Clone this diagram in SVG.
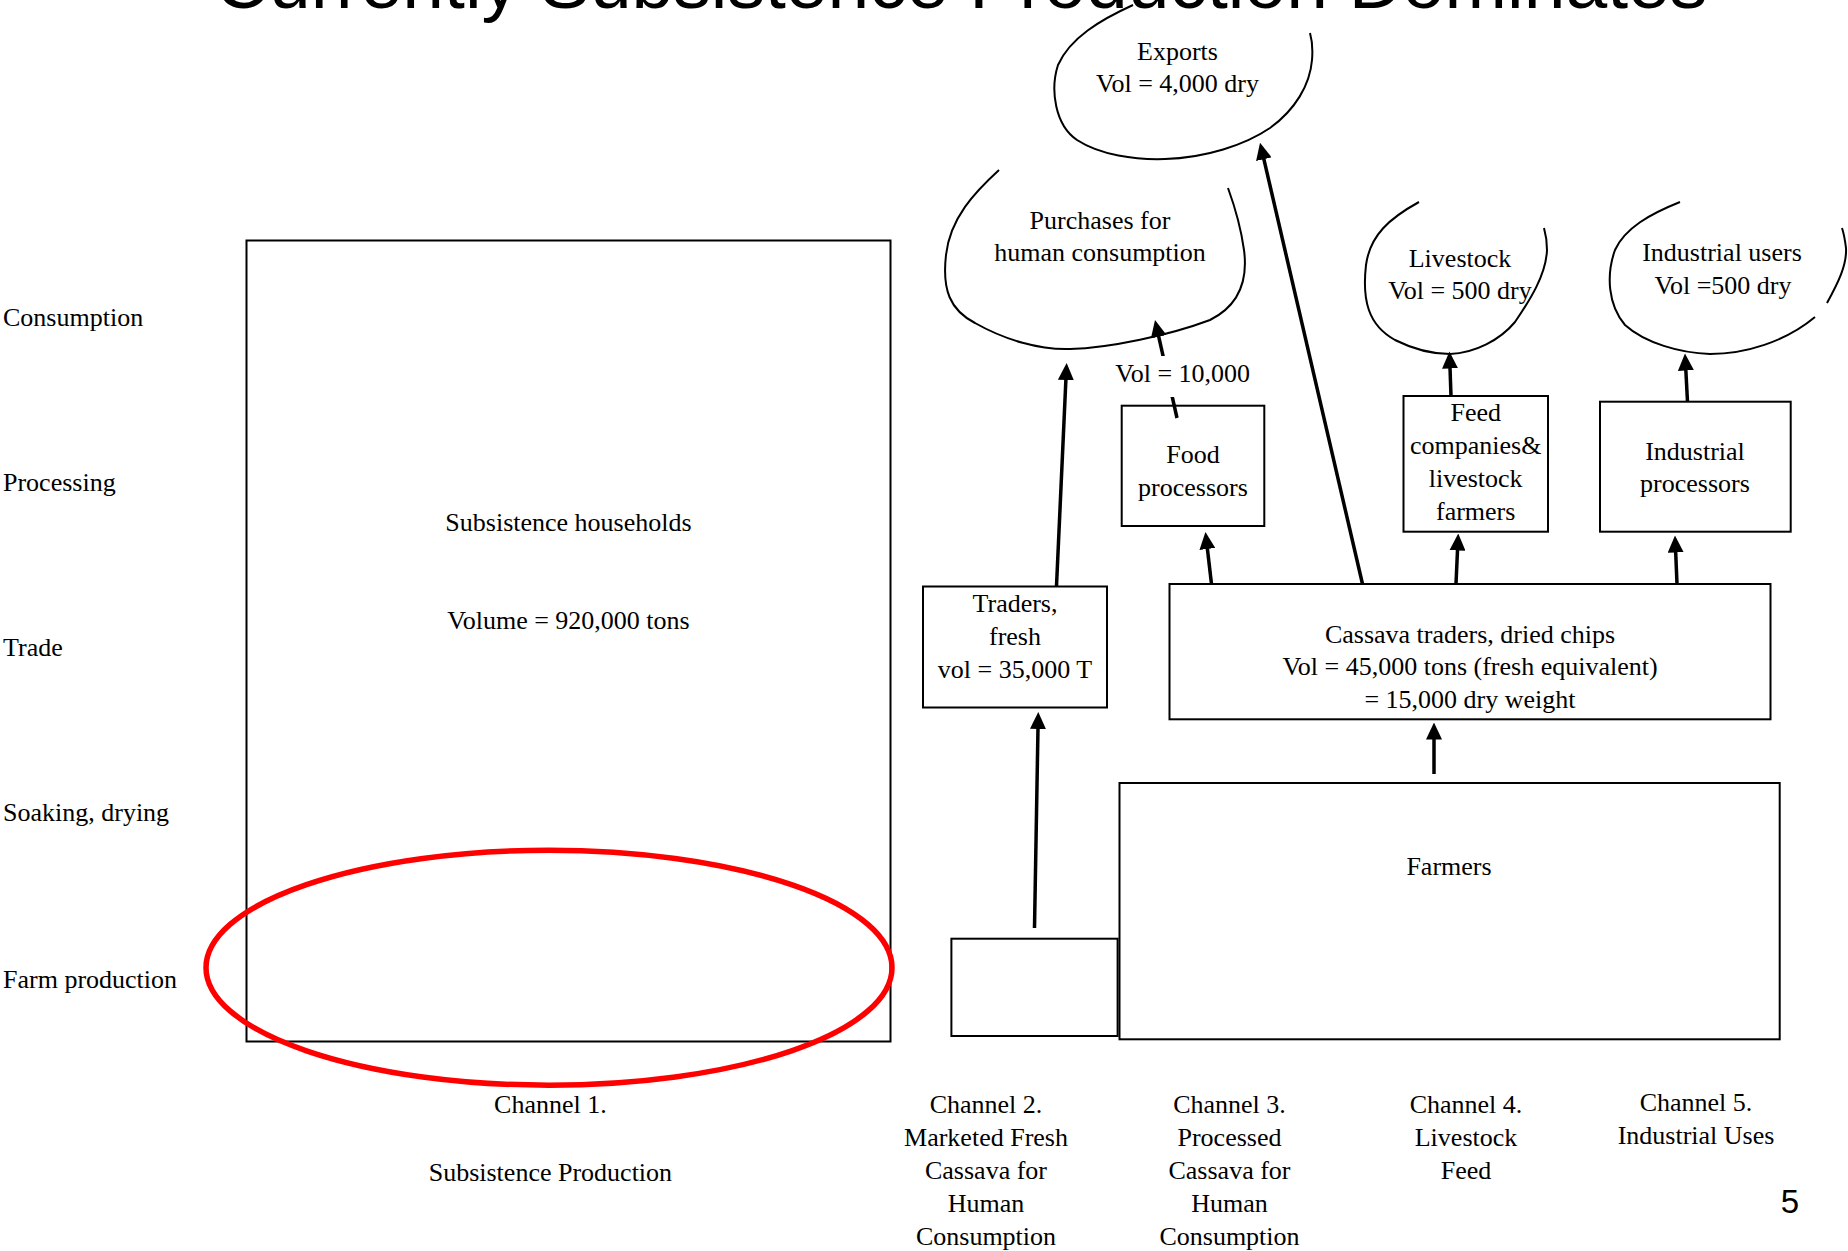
<svg xmlns="http://www.w3.org/2000/svg" width="1848" height="1251" viewBox="0 0 1848 1251">
<defs>
<style>
.t{font-family:"Liberation Serif","Times New Roman",serif;font-size:26px;fill:#000}
.c{text-anchor:middle}
.box{fill:none;stroke:#000;stroke-width:2}
.cloud{fill:none;stroke:#000;stroke-width:2}
.arr{fill:none;stroke:#000;stroke-width:3.5;marker-end:url(#ah)}
</style>
<marker id="ah" markerUnits="userSpaceOnUse" markerWidth="17" markerHeight="16" viewBox="0 0 17 16" refX="7" refY="8" orient="auto">
<path d="M0,0 L17,8 L0,16 z" fill="#000"/>
</marker>
</defs>
<rect width="1848" height="1251" fill="#fff"/>

<text x="961" y="8" text-anchor="middle" font-family="'Liberation Sans',Arial,sans-serif" font-size="75" fill="#000">Currently Subsistence Production Dominates</text>

<g id="stage-labels" class="t">
<text x="3" y="326">Consumption</text>
<text x="3" y="491">Processing</text>
<text x="3" y="656">Trade</text>
<text x="3" y="821">Soaking, drying</text>
<text x="3" y="988">Farm production</text>
</g>

<g id="subsistence">
<rect class="box" x="246.5" y="240.5" width="644" height="801"/>
<text class="t c" x="568.5" y="531">Subsistence households</text>
<text class="t c" x="568.5" y="629">Volume = 920,000 tons</text>
</g>

<g id="highlight">
<ellipse cx="549" cy="967.7" rx="343" ry="117.5" fill="none" stroke="#ff0000" stroke-width="5.5"/>
</g>

<g id="exports">
<path class="cloud" d="M1133,5 C1100,20 1070,38 1058,65 C1050,90 1055,125 1077,140 C1100,155 1135,160 1165,159 C1205,158 1245,145 1270,128 C1295,110 1310,85 1312,60 C1313,48 1312,40 1310,33"/>
<text class="t c" x="1177.5" y="60">Exports</text>
<text class="t c" x="1177.5" y="92">Vol = 4,000 dry</text>
</g>

<g id="purchases">
<path class="cloud" d="M999,170 C975,192 950,218 946,255 C942,290 950,310 975,323 C1005,340 1040,350 1070,349 C1110,348 1170,335 1210,320 C1240,305 1248,280 1244,250 C1241,228 1236,210 1228,188"/>
<text class="t c" x="1100" y="229">Purchases for</text>
<text class="t c" x="1100" y="261">human consumption</text>
</g>

<g id="livestock">
<path class="cloud" d="M1419,202 C1390,218 1370,235 1366,265 C1362,300 1368,325 1395,340 C1415,350 1435,354 1450,354 C1475,353 1500,340 1515,322 C1530,300 1546,275 1547,250 C1547,240 1546,235 1544,228"/>
<text class="t c" x="1460" y="267">Livestock</text>
<text class="t c" x="1460" y="299">Vol = 500 dry</text>
</g>

<g id="industrial-users">
<path class="cloud" d="M1680,202 C1650,214 1625,228 1615,250 C1606,275 1608,305 1625,325 C1645,343 1680,353 1710,354 C1745,354 1785,342 1815,317 M1827,303 C1838,283 1847,265 1846,248 C1845,240 1844,234 1842,228"/>
<text class="t c" x="1722" y="261">Industrial users</text>
<text class="t c" x="1723" y="294">Vol =500 dry</text>
</g>

<g id="food-processors">
<rect class="box" x="1121.7" y="405.7" width="142.6" height="120.3"/>
<text class="t c" x="1193" y="463">Food</text>
<text class="t c" x="1193" y="496">processors</text>
</g>

<g id="feed-companies">
<rect class="box" x="1403.5" y="396" width="144.5" height="135.7"/>
<text class="t c" x="1475.7" y="421">Feed</text>
<text class="t c" x="1475.7" y="454">companies&amp;</text>
<text class="t c" x="1475.7" y="487">livestock</text>
<text class="t c" x="1475.7" y="520">farmers</text>
</g>

<g id="industrial-processors">
<rect class="box" x="1600" y="401.7" width="190.7" height="130"/>
<text class="t c" x="1695" y="460">Industrial</text>
<text class="t c" x="1695" y="492">processors</text>
</g>

<g id="traders-fresh">
<rect class="box" x="923" y="586.5" width="184" height="121"/>
<text class="t c" x="1015" y="612">Traders,</text>
<text class="t c" x="1015" y="645">fresh</text>
<text class="t c" x="1015" y="678">vol = 35,000 T</text>
</g>

<g id="cassava-traders">
<rect class="box" x="1169.5" y="584" width="601" height="135.3"/>
<text class="t c" x="1470" y="643">Cassava traders, dried chips</text>
<text class="t c" x="1470" y="675">Vol = 45,000 tons (fresh equivalent)</text>
<text class="t c" x="1470" y="708">= 15,000 dry weight</text>
</g>

<g id="fresh-farmers">
<rect class="box" x="951.4" y="938.7" width="166.2" height="97.3"/>
</g>

<g id="farmers">
<rect class="box" x="1119.5" y="783" width="660.2" height="256.3"/>
<text class="t c" x="1449" y="875">Farmers</text>
</g>

<g id="connectors">
<line class="arr" x1="1034.5" y1="928" x2="1038.1" y2="722"/>
<line class="arr" x1="1434" y1="774" x2="1434" y2="732.5"/>
<line class="arr" x1="1056.5" y1="586" x2="1066.2" y2="373"/>
<line class="arr" x1="1211.5" y1="584" x2="1206.6" y2="542"/>
<line class="arr" x1="1177" y1="418" x2="1157.2" y2="329.8"/>
<line class="arr" x1="1362.5" y1="584" x2="1262.3" y2="152.4"/>
<line class="arr" x1="1456" y1="584" x2="1457.8" y2="543.5"/>
<line class="arr" x1="1677" y1="584" x2="1675.4" y2="545.5"/>
<line class="arr" x1="1451" y1="396" x2="1449.8" y2="361.5"/>
<line class="arr" x1="1687.5" y1="402" x2="1685.5" y2="363.5"/>
<rect x="1110" y="356" width="145" height="41" fill="#fff"/>
<text class="t c" x="1182.7" y="382">Vol = 10,000</text>
</g>

<g id="channel-labels" class="t c">
<text x="550.4" y="1113">Channel 1.</text>
<text x="550.4" y="1181">Subsistence Production</text>
<text x="986" y="1113">Channel 2.</text>
<text x="986" y="1146">Marketed Fresh</text>
<text x="986" y="1179">Cassava for</text>
<text x="986" y="1212">Human</text>
<text x="986" y="1245">Consumption</text>
<text x="1229.5" y="1113">Channel 3.</text>
<text x="1229.5" y="1146">Processed</text>
<text x="1229.5" y="1179">Cassava for</text>
<text x="1229.5" y="1212">Human</text>
<text x="1229.5" y="1245">Consumption</text>
<text x="1466" y="1113">Channel 4.</text>
<text x="1466" y="1146">Livestock</text>
<text x="1466" y="1179">Feed</text>
<text x="1696" y="1111">Channel 5.</text>
<text x="1696" y="1144">Industrial Uses</text>
</g>

<text x="1790" y="1213" text-anchor="middle" font-family="'Liberation Sans',Arial,sans-serif" font-size="33" fill="#000">5</text>
</svg>
